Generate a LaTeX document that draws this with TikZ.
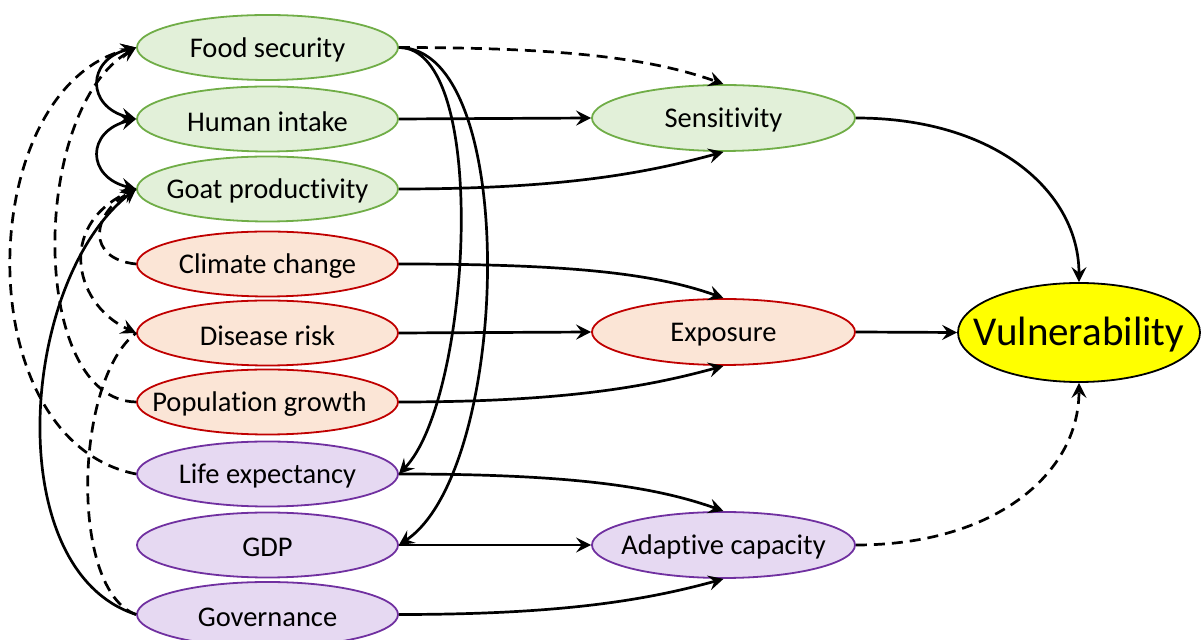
\documentclass[tikz,border=0pt]{standalone}
\usepackage{fontspec}
\setmainfont{Carlito}[Ligatures=NoCommon]
\usetikzlibrary{shapes.geometric,arrows.meta}
\definecolor{gfill}{HTML}{E2F0D9}
\definecolor{gline}{HTML}{70AD47}
\definecolor{rfill}{HTML}{FBE5D6}
\definecolor{rline}{HTML}{C00000}
\definecolor{pfill}{HTML}{E6D9F2}
\definecolor{pline}{HTML}{7030A0}
\definecolor{yfill}{HTML}{FFFF00}
\tikzset{
  ell/.style={ellipse, line width=0.9pt, minimum width=130.5pt, minimum height=32.5pt, inner sep=0pt},
  midell/.style={ell, minimum width=131.5pt, minimum height=33pt},
  grn/.style={ell, draw=gline, fill=gfill},
  red/.style={ell, draw=rline, fill=rfill},
  pur/.style={ell, draw=pline, fill=pfill},
  every label/.style={yshift=-1.2pt},
  tip/.tip={Stealth[length=7.5pt,width=7.5pt,inset=2.8pt]},
  conn/.style={line width=1.35pt, -tip},
  both/.style={line width=1.35pt, tip-tip},
  dsh/.style={conn, dash pattern=on 5.5pt off 3.5pt},
  dshplain/.style={line width=1.35pt, dash pattern=on 5.5pt off 3.5pt},
}
\begin{document}
\begin{tikzpicture}[x=0.5pt,y=-0.5pt, font=\fontsize{14.25pt}{17pt}\selectfont]
\useasboundingbox (0,0) rectangle (1201,640);
% left column
\node[grn, label=center:Food security] (fs) at (267.5,47.5) {};
\node[grn, label=center:Human intake] (hi) at (267.5,119) {};
\node[grn, label=center:Goat productivity] (gp) at (267.5,189) {};
\node[red, label=center:Climate change] (cc) at (267.5,264) {};
\node[red, label=center:Disease risk] (dr) at (267.5,333) {};
\node[red, label={[xshift=-4pt]center:Population growth}] (pg) at (267.5,402) {};
\node[pur, label=center:Life expectancy] (le) at (267.5,474) {};
\node[pur, label=center:GDP] (gdp) at (267.5,545) {};
\node[pur, label=center:Governance] (gov) at (267.5,614.5) {};
% middle column
\node[grn, midell, label=center:Sensitivity] (sens) at (723.5,118) {};
\node[red, midell, label=center:Exposure] (exp) at (723.5,332) {};
\node[pur, midell, label=center:Adaptive capacity] (ac) at (723.5,545) {};
% right
\node[ell, draw=black, fill=yfill, minimum width=121pt, minimum height=49.5pt,
      label={[font=\fontsize{20.5pt}{24pt}\selectfont]center:Vulnerability}] (vul) at (1079,332.5) {};

% straight connectors
\draw[conn] (hi.east) -- (sens.west);
\draw[conn] (dr.east) -- (exp.west);
\draw[conn] (gdp.east) -- (ac.west);
\draw[conn] (exp.east) -- (vul.west);
% curved to middle column
\draw[dsh] (fs.east) .. controls +(170,0) and +(-70,-25) .. (sens.north);
\draw[conn] (gp.east) .. controls +(160,0) and +(-80,22) .. (sens.south);
\draw[conn] (cc.east) .. controls +(170,0) and +(-70,-25) .. (exp.north);
\draw[conn] (pg.east) .. controls +(160,0) and +(-80,22) .. (exp.south);
\draw[conn] (le.east) .. controls +(170,0) and +(-70,-25) .. (ac.north);
\draw[conn] (gov.east) .. controls +(160,0) and +(-80,22) .. (ac.south);
% food security to life expectancy and GDP
\draw[conn] (fs.east) .. controls +(92,0) and +(72,-74) .. (le.east);
\draw[conn] (fs.east) .. controls +(122,0) and +(112,-75) .. (gdp.east);
% to vulnerability
\draw[conn] (sens.east) .. controls +(140,0) and +(0,-90) .. (vul.north);
\draw[dsh] (ac.east) .. controls +(140,0) and +(0,90) .. (vul.south);
% left side loops
\draw[both] (fs.west) .. controls +(-50,12) and +(-50,-12) .. (hi.west);
\draw[both] (hi.west) .. controls +(-50,12) and +(-50,-12) .. (gp.west);
\draw[dsh] (le.west) .. controls +(-172,-34) and +(-162,38) .. (fs.west);
\draw[dsh] (pg.west) .. controls +(-107,-2) and +(-107,63) .. (fs.west);
\draw[dsh] (cc.west) .. controls +(-50,-5) and +(-45,25) .. (gp.west);
\draw[dsh] (gp.west) .. controls +(-80,30) and +(-65,-30) .. (dr.west);
\draw[dshplain] (gov.west) .. controls +(-67,-24) and +(-62,47) .. (dr.west);
\draw[conn] (gov.west) .. controls +(-137,-44) and +(-117,91) .. (gp.west);
\end{tikzpicture}
\end{document}
